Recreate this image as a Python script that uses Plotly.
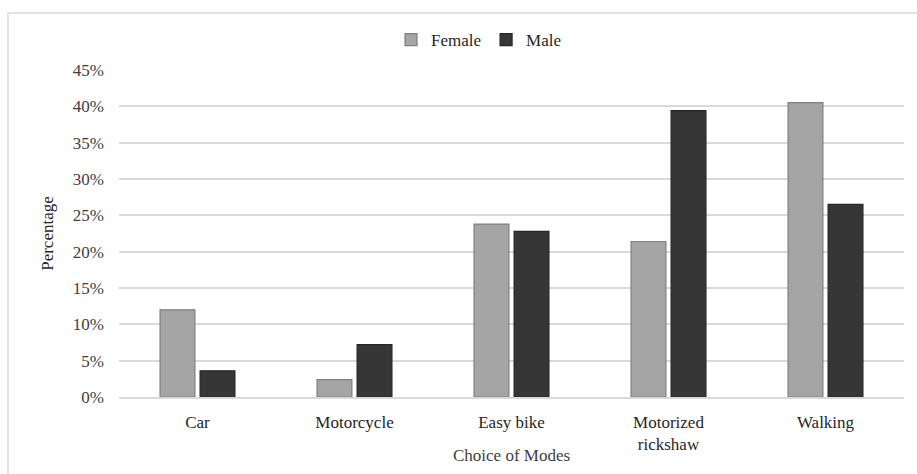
import plotly.graph_objects as go

# Mode choice share by gender
modes = ["Car", "Motorcycle", "Easy bike", "Motorized<br>rickshaw", "Walking"]
female = [12.0, 2.4, 23.8, 21.4, 40.5]
male = [3.6, 7.2, 22.8, 39.4, 26.5]
y_ticks = [0, 5, 10, 15, 20, 25, 30, 35, 40, 45]
y_tick_labels = [f"{v}%" for v in y_ticks]

FONT = "Liberation Serif, DejaVu Serif, serif"
W, H = 917, 474
L, R, T, B = 119, 13, 70, 77
pw, ph = W - L - R, H - T - B

fig = go.Figure()
fig.add_trace(go.Bar(
    name="Female", x=modes, y=female,
    marker=dict(color="#a5a5a5", line=dict(color="#7f7f7f", width=1.2)),
))
fig.add_trace(go.Bar(
    name="Male", x=modes, y=male,
    marker=dict(color="#363636", line=dict(color="#262626", width=1.2)),
))

# pixel -> paper coordinate helpers
def px_x(px):
    return (px - L) / pw

def px_y(py):
    return (H - B - py) / ph

# outer frame around the whole chart
fig.add_shape(type="rect", xref="paper", yref="paper",
              x0=px_x(8), x1=px_x(W + 20), y0=px_y(H + 20), y1=px_y(13),
              line=dict(color="#d9d9d9", width=1.5), fillcolor="rgba(0,0,0,0)",
              layer="below")

# x-axis title
fig.add_annotation(text="Choice of Modes", xref="paper", yref="paper",
                   x=0.5, y=px_y(455), xanchor="center", yanchor="middle",
                   showarrow=False, font=dict(family=FONT, size=17, color="#404040"))

fig.update_layout(
    width=W, height=H,
    margin=dict(l=L, r=R, t=T, b=B),
    paper_bgcolor="white", plot_bgcolor="white",
    barmode="group", bargap=0.49, bargroupgap=0.13,
    font=dict(family=FONT, size=17, color="#404040"),
    legend=dict(orientation="h", x=0.458, xanchor="center", y=px_y(40), yanchor="middle",
                font=dict(family=FONT, size=17, color="#262626"),
                itemwidth=30, traceorder="normal"),
    xaxis=dict(
        tickfont=dict(family=FONT, size=17, color="#262626"),
        showline=True, linecolor="#d9d9d9", linewidth=1.5,
        ticks="", showgrid=False, ticklabelstandoff=9, automargin=False,
    ),
    yaxis=dict(
        title=dict(text="Percentage", font=dict(family=FONT, size=17, color="#262626"),
                   standoff=14),
        range=[0, 45], tickvals=y_ticks, ticktext=y_tick_labels,
        tickfont=dict(family=FONT, size=17, color="#404040"),
        showgrid=True, gridcolor="#d9d9d9", gridwidth=1.5,
        zeroline=False, ticks="", ticklabelstandoff=14, automargin=False,
    ),
)

fig.write_html("out.html")
